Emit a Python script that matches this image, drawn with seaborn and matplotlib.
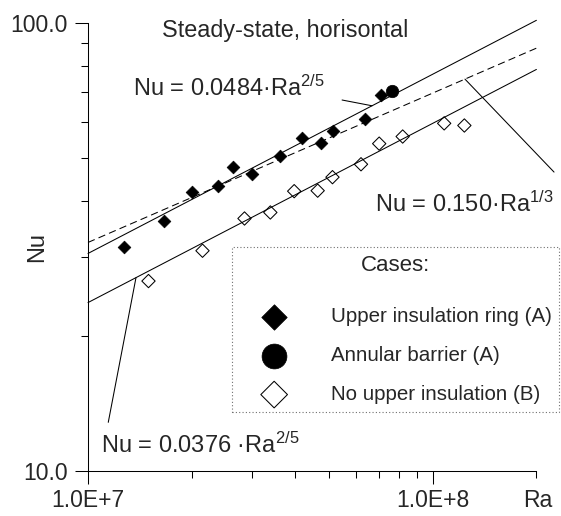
import matplotlib
matplotlib.use("Agg")
import matplotlib.pyplot as plt
import seaborn as sns
from matplotlib.ticker import FixedLocator, FixedFormatter, NullFormatter

# Measured Nusselt vs Rayleigh numbers for each case
ra_ring = [1.274e7, 1.664e7, 2.007e7, 2.386e7, 2.640e7, 2.997e7,
           3.614e7, 4.172e7, 4.758e7, 5.148e7, 6.364e7, 7.08e7]
nu_ring = [31.5, 36.1, 41.8, 43.2, 47.6, 46.0,
           50.3, 55.2, 53.9, 57.2, 61.1, 68.8]

ra_barrier = [7.645e7]
nu_barrier = [70.3]

ra_open = [1.498e7, 2.149e7, 2.845e7, 3.381e7, 3.965e7, 4.639e7,
           5.121e7, 6.196e7, 6.997e7, 8.185e7, 1.080e8, 1.236e8]
nu_open = [26.5, 30.97, 36.55, 37.7, 42.06, 42.17,
           45.2, 48.3, 53.7, 55.7, 59.6, 58.95]

case_labels = ["Upper insulation ring (A)", "Annular barrier (A)",
               "No upper insulation (B)"]

# Correlations Nu = C * Ra^n
fit_coef = [0.0484, 0.150, 0.0376]
fit_exp = [2 / 5, 1 / 3, 2 / 5]
ra_span = [1e7, 2e8]

x_major = [1e7, 1e8]
x_major_labels = ["1.0E+7", "1.0E+8"]
x_minor = [2e7, 3e7, 4e7, 5e7, 6e7, 7e7, 8e7, 9e7, 2e8]
y_major = [10, 100]
y_major_labels = ["10.0", "100.0"]
y_minor = [20, 30, 40, 50, 60, 70, 80, 90]

sns.set_style("white")
plt.rcParams["font.family"] = ["Liberation Sans", "DejaVu Sans"]
plt.rcParams["mathtext.default"] = "regular"

fig = plt.figure(figsize=(5.61, 5.16), dpi=100)
ax = fig.add_axes([88 / 561, 1 - 470.67 / 516, 448.4 / 561, 448 / 516])
ax.set_xscale("log")
ax.set_yscale("log")

# correlation lines
styles = ["-", (0, (7, 4)), "-"]
for c, n, ls in zip(fit_coef, fit_exp, styles):
    nu_fit = [c * r ** n for r in ra_span]
    sns.lineplot(x=ra_span, y=nu_fit, ax=ax, color="black", lw=0.75,
                 linestyle=ls, clip_on=False, legend=False, zorder=2)

# measurements
sns.scatterplot(x=ra_ring, y=nu_ring, ax=ax, marker="D", s=42, color="black",
                edgecolor="black", linewidth=0.5, label=case_labels[0],
                legend=False, zorder=3)
sns.scatterplot(x=ra_barrier, y=nu_barrier, ax=ax, marker="o", s=80,
                color="black", edgecolor="black", linewidth=0.5,
                label=case_labels[1], legend=False, zorder=3)
sns.scatterplot(x=ra_open, y=nu_open, ax=ax, marker="D", s=46, color="black",
                facecolor="none", edgecolor="black", linewidth=0.75,
                label=case_labels[2], legend=False, zorder=3)

ax.set_xlim(1e7, 2e8)
ax.set_ylim(10, 100)
sns.despine(ax=ax)
for side in ("left", "bottom"):
    ax.spines[side].set_linewidth(0.75)
    ax.spines[side].set_color("black")

ax.xaxis.set_major_locator(FixedLocator(x_major))
ax.xaxis.set_major_formatter(FixedFormatter(x_major_labels))
ax.xaxis.set_minor_locator(FixedLocator(x_minor))
ax.xaxis.set_minor_formatter(NullFormatter())
ax.yaxis.set_major_locator(FixedLocator(y_major))
ax.yaxis.set_major_formatter(FixedFormatter(y_major_labels))
ax.yaxis.set_minor_locator(FixedLocator(y_minor))
ax.yaxis.set_minor_formatter(NullFormatter())

ax.tick_params(which="both", direction="out", color="black", width=0.75,
               bottom=True, left=True)
ax.tick_params(which="major", length=9.4, labelsize=16.5)
ax.tick_params(axis="x", which="major", pad=3.8)
ax.tick_params(axis="y", which="major", pad=5.4)
ax.tick_params(which="minor", length=5)

ax.set_xlabel("Ra", fontsize=16.5)
ax.xaxis.set_label_coords(1.002, -0.040)
ax.set_ylabel("Nu", fontsize=17)
ax.yaxis.set_label_coords(-0.089, 0.499)

# heading and correlation labels
ax.text(0.165, 0.9673, "Steady-state, horisontal", transform=ax.transAxes,
        ha="left", va="baseline", fontsize=16.8)
ax.text(0.1003, 0.8363, "Nu = 0.0484·Ra$^{2/5}$", transform=ax.transAxes,
        ha="left", va="baseline", fontsize=17)
ax.text(0.640, 0.578, "Nu = 0.150·Ra$^{1/3}$", transform=ax.transAxes,
        ha="left", va="baseline", fontsize=17)
ax.text(0.0297, 0.0388, "Nu = 0.0376 ·Ra$^{2/5}$", transform=ax.transAxes,
        ha="left", va="baseline", fontsize=17)

# leader lines from the labels to their correlation lines
leader = dict(arrowstyle="-", lw=0.75, color="black", shrinkA=0, shrinkB=0)
for (ra_end, k), start in zip([(6.67e7, 0), (1.241e8, 1), (1.378e7, 2)],
                              [(5.46e7, 67.2), (2.25e8, 46.4), (1.145e7, 12.82)]):
    nu_end = fit_coef[k] * ra_end ** fit_exp[k]
    ax.annotate("", xy=(ra_end, nu_end), xytext=start,
                arrowprops=leader, annotation_clip=False)

leg = ax.legend(loc="upper left", bbox_to_anchor=(231.7 / 561, 1 - 247.3 / 516),
                bbox_transform=fig.transFigure, borderaxespad=0,
                title="Cases:", title_fontsize=16, fontsize=14.8,
                markerscale=2.0, borderpad=0.38, handlelength=3.37,
                handletextpad=1.06, labelspacing=0.96, frameon=True,
                fancybox=False, framealpha=1)
frame = leg.get_frame()
frame.set_edgecolor("#707070")
frame.set_linewidth(0.8)
frame.set_linestyle((0, (1, 2)))
leg._legend_box.sep = 22.6

fig.savefig("out.png", dpi=100)
